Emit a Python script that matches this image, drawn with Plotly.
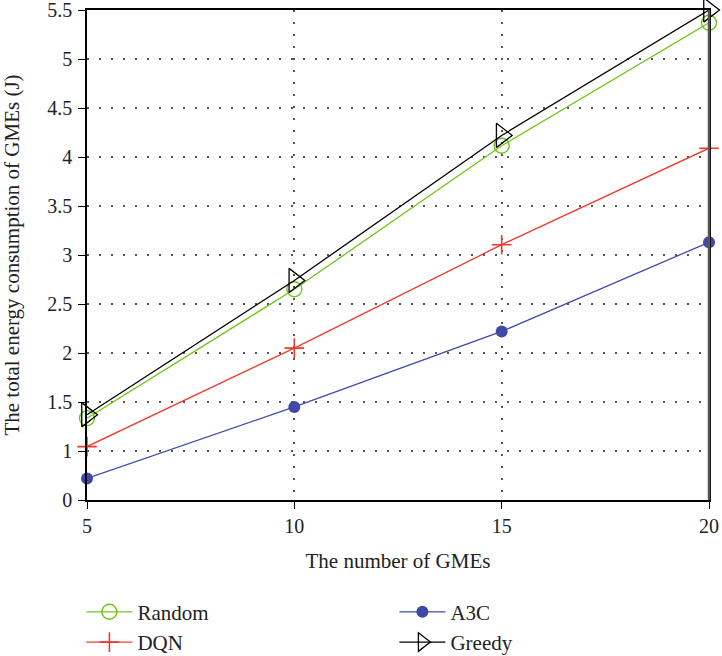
import plotly.graph_objects as go

x_vals = [5, 10, 15, 20]
random_vals = [1.335, 2.65, 4.115, 5.37]
dqn_vals = [1.045, 2.05, 3.105, 4.09]
a3c_vals = [0.72, 1.45, 2.22, 3.13]
greedy_vals = [1.37, 2.74, 4.22, 5.5]

y_tickvals = [0.5, 1, 1.5, 2, 2.5, 3, 3.5, 4, 4.5, 5, 5.5]
y_ticktext = ["0", "1", "1.5", "2", "2.5", "3", "3.5", "4", "4.5", "5", "5.5"]
x_tickvals = [5, 10, 15, 20]

font_family = "Liberation Serif"

fig = go.Figure()
fig.add_trace(go.Scatter(x=x_vals, y=a3c_vals, name="A3C", mode="lines+markers",
                         line=dict(color="#4048a8", width=1.3),
                         marker=dict(symbol="circle", size=12, color="#4048a8"),
                         legendrank=2, cliponaxis=False))
fig.add_trace(go.Scatter(x=x_vals, y=dqn_vals, name="DQN", mode="lines+markers",
                         line=dict(color="#f03a2e", width=1.3),
                         marker=dict(symbol="cross-thin-open", size=14,
                                     line=dict(color="#f03a2e", width=1.6)),
                         legendrank=3, cliponaxis=False))
fig.add_trace(go.Scatter(x=x_vals, y=random_vals, name="Random", mode="lines+markers",
                         line=dict(color="#72c31c", width=1.3),
                         marker=dict(symbol="circle-open", size=15,
                                     line=dict(color="#72c31c", width=1.4)),
                         legendrank=1, cliponaxis=False))
fig.add_trace(go.Scatter(x=x_vals, y=greedy_vals, name="Greedy", mode="lines+markers",
                         line=dict(color="black", width=1.3),
                         marker=dict(symbol="triangle-right-open", size=21,
                                     line=dict(color="black", width=1.3)),
                         legendrank=4, cliponaxis=False))

fig.update_layout(
    width=722, height=656,
    paper_bgcolor="white", plot_bgcolor="white",
    margin=dict(l=87, r=13, t=10, b=156, autoexpand=False),
    font=dict(family=font_family, size=20, color="#222"),
    showlegend=True,
    legend=dict(orientation="h", x=-0.009, xanchor="left", y=-0.187, yanchor="top",
                entrywidth=252, entrywidthmode="pixels",
                font=dict(family=font_family, size=21, color="#222"),
                bgcolor="rgba(0,0,0,0)", tracegroupgap=0, itemwidth=46),
    xaxis=dict(range=[5, 20], tickvals=x_tickvals, ticks="outside", ticklen=7,
               tickcolor="black", showline=True, linecolor="black", linewidth=1.5,
               mirror=True, showgrid=True, gridcolor="#555", griddash="2px,10px",
               gridwidth=1.5, zeroline=False, ticklabeloverflow="allow",
               title=dict(text="The number of GMEs", standoff=18,
                          font=dict(family=font_family, size=21)),
               tickfont=dict(family=font_family, size=20)),
    yaxis=dict(range=[0.5, 5.5], tickvals=y_tickvals, ticktext=y_ticktext,
               ticks="outside", ticklen=7, tickcolor="black",
               showline=True, linecolor="black", linewidth=1.5, mirror=True,
               showgrid=True, gridcolor="#555", griddash="2px,10px", gridwidth=1.5,
               zeroline=False, ticklabeloverflow="allow", ticklabelstandoff=2,
               title=dict(text="The total energy consumption of GMEs (J)", standoff=28,
                          font=dict(family=font_family, size=21)),
               tickfont=dict(family=font_family, size=20)),
)
fig.add_shape(type="line", xref="paper", yref="paper", x0=1, x1=1, y0=0, y1=1,
              line=dict(color="#555", width=2.5), layer="above")

fig.write_html("out.html", post_script="document.body.style.margin='0';",
               config={"displayModeBar": False})
